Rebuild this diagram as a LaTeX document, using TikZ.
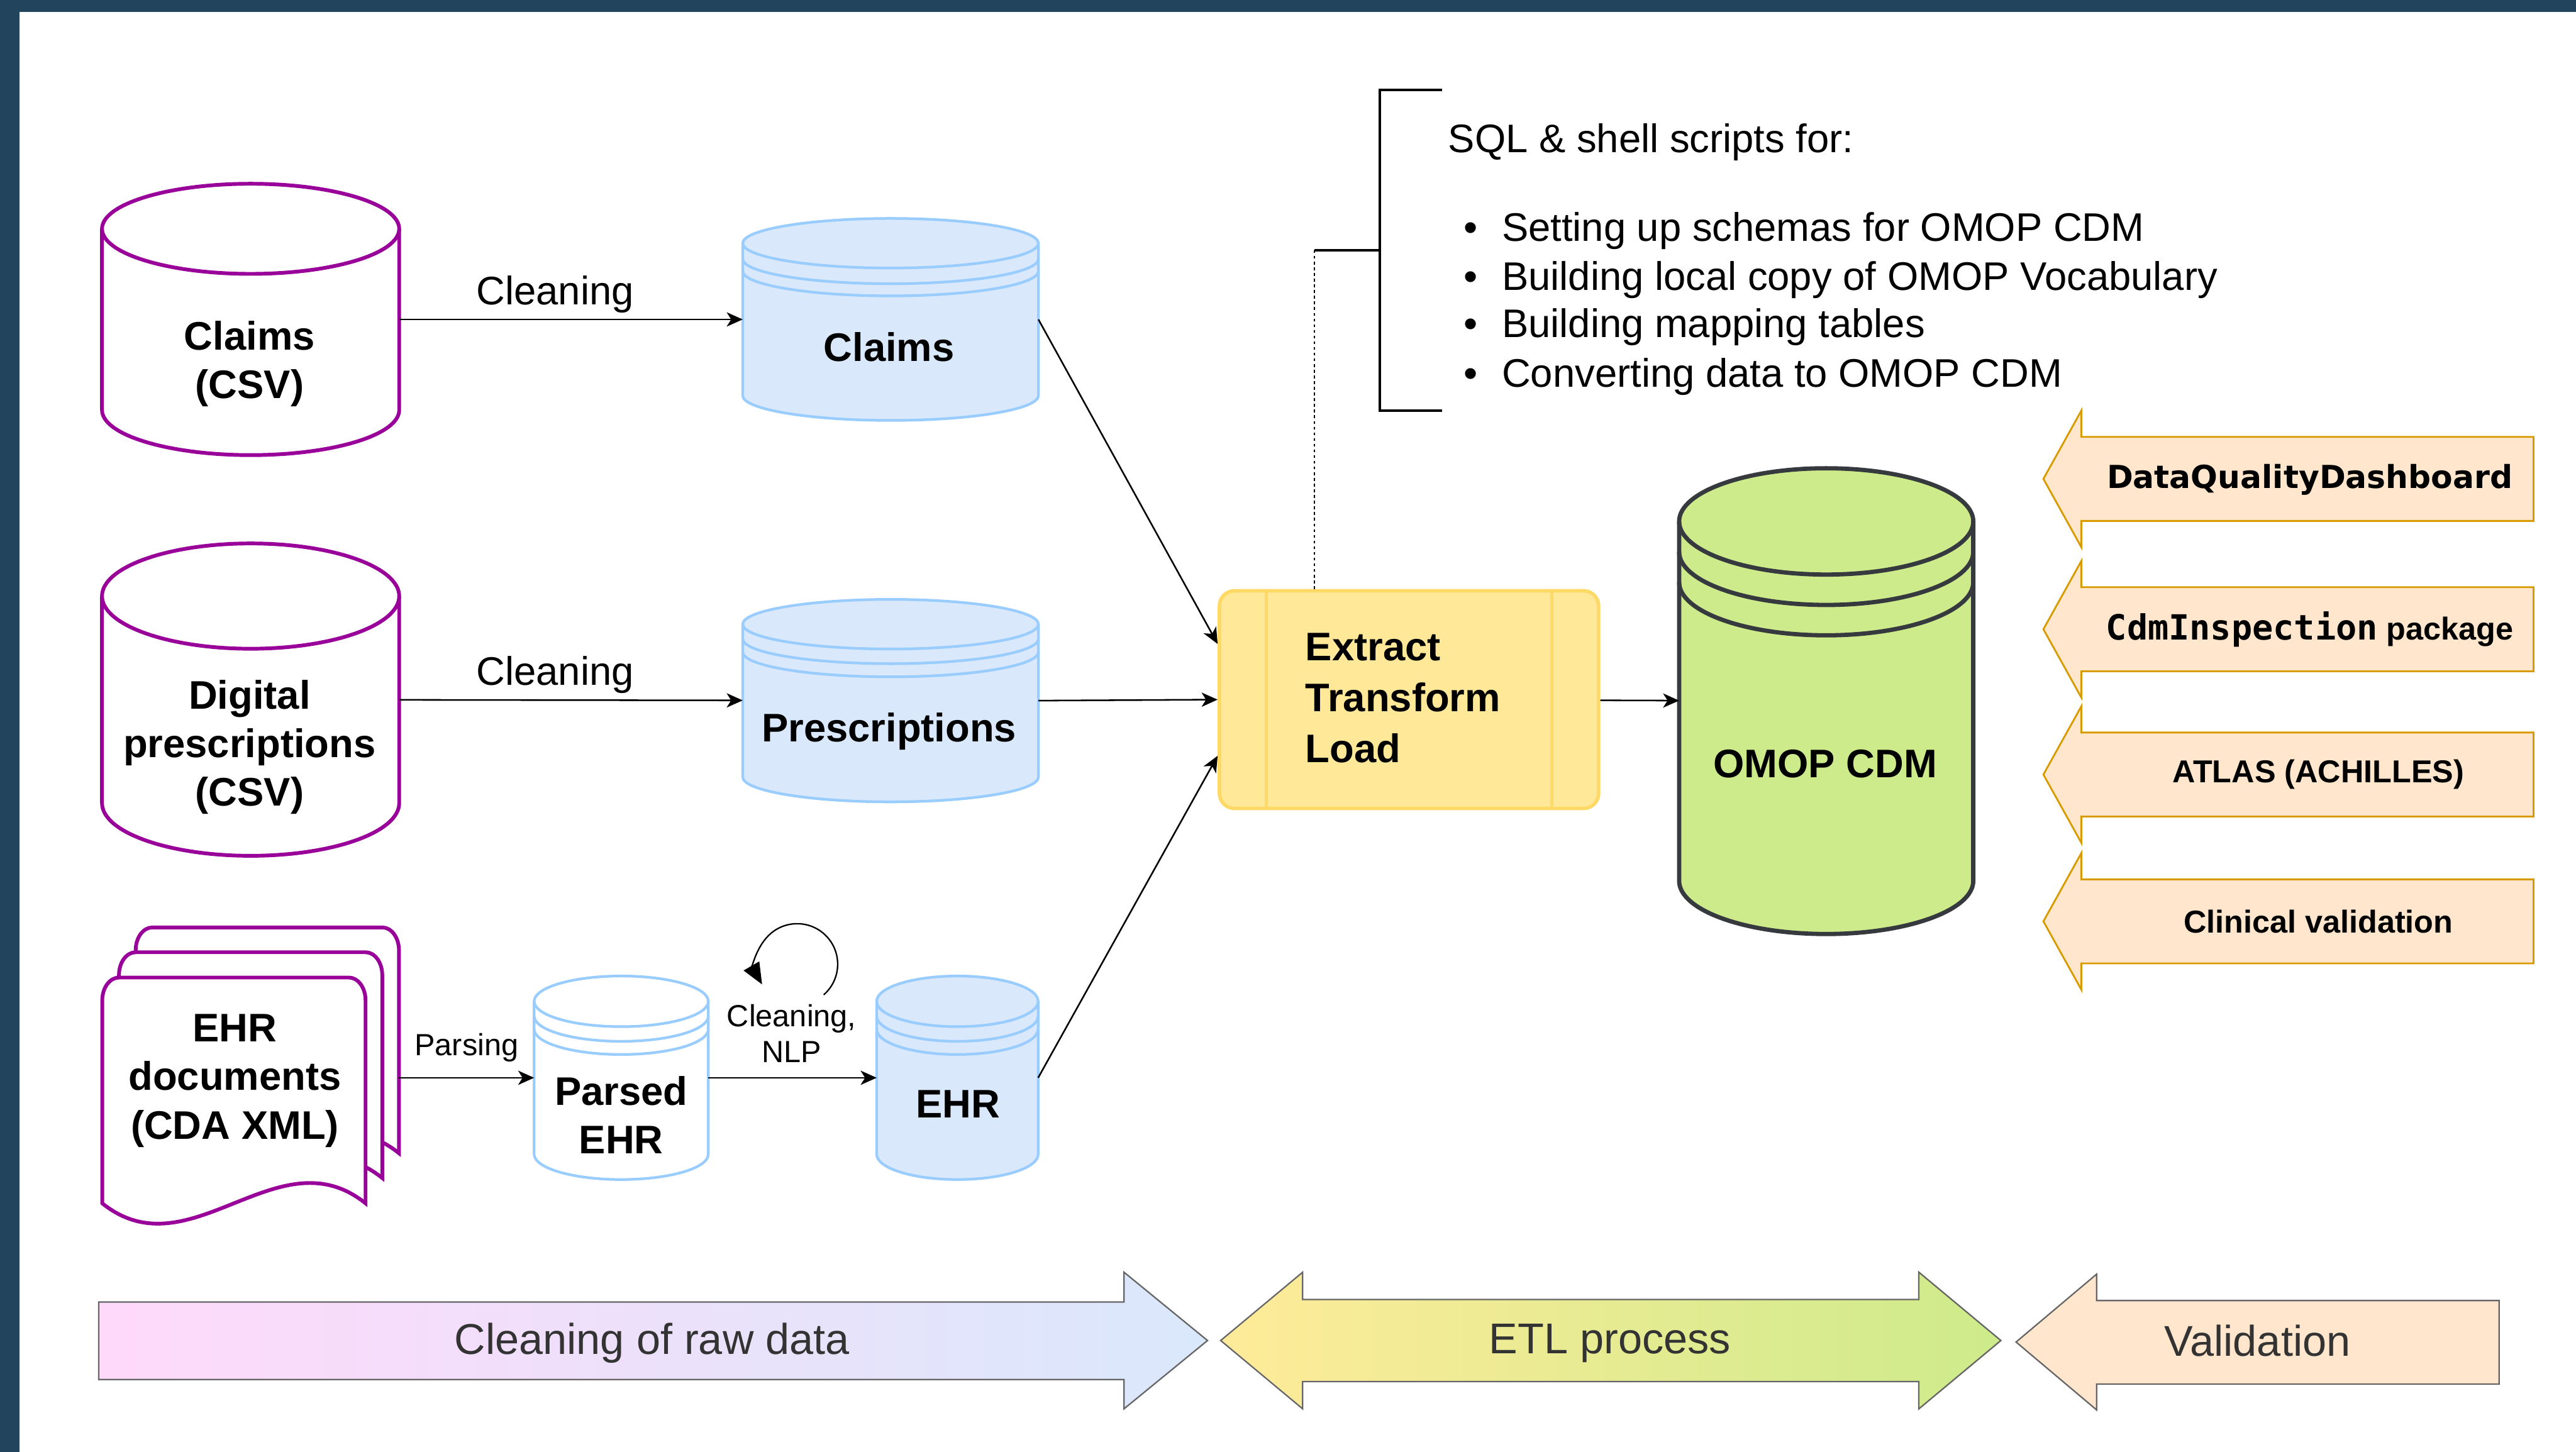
\documentclass[tikz,border=0pt]{standalone}
\usepackage{fontspec}
\setmainfont{Liberation Sans}
\newfontfamily\verdanafont{DejaVu Sans}
\newfontfamily\codefont{DejaVu Sans Mono}
\usepackage{tikz}
\usepackage{xcolor}
\usetikzlibrary{arrows.meta,positioning,calc}
\definecolor{framenavy}{HTML}{23445D}
\definecolor{rawpurple}{HTML}{990099}
\definecolor{stageblue}{HTML}{99CCFF}
\definecolor{stagefill}{HTML}{DAE8FC}
\definecolor{etlfill}{HTML}{FFE999}
\definecolor{etledge}{HTML}{FFD966}
\definecolor{cdmgreen}{HTML}{CDEB8B}
\definecolor{cdmedge}{HTML}{36393D}
\definecolor{valfill}{HTML}{FFE6CC}
\definecolor{valedge}{HTML}{D79B00}
\definecolor{phasepink}{HTML}{FFD9FA}
\definecolor{phaseyellow}{HTML}{FFEB99}
\definecolor{phasegray}{HTML}{666666}
\definecolor{phasetext}{HTML}{333333}

% cylinder drawn over an empty node: style, node, y radius, ring offsets
\newcommand{\dbcyl}[4]{%
  \draw[#1] let \p1=(#2.north west), \p2=(#2.south east), \n1={(\x2-\x1)/2} in
    (\x1,{\y1-#3}) -- (\x1,{\y2+#3})
    arc[start angle=180, end angle=360, x radius=\n1, y radius=#3]
    -- (\x2,{\y1-#3})
    arc[start angle=0, end angle=180, x radius=\n1, y radius=#3] -- cycle;
  \foreach \d in {#4}{
    \draw[#1, fill=none] let \p1=(#2.north west), \p2=(#2.south east), \n1={(\x2-\x1)/2} in
      (\x1,{\y1-#3-\d}) arc[start angle=180, end angle=360, x radius=\n1, y radius=#3];
  }%
}

\begin{document}
\begin{tikzpicture}[
    arrow/.style={->, >={Stealth[length=9pt,width=8pt,inset=2.5pt]}, line width=0.9pt},
    looparrow/.style={-{Triangle[length=12pt,width=10pt]}, line width=0.8pt},
    dotline/.style={line width=0.9pt, dash pattern=on 1.6pt off 1.6pt},
    bracketline/.style={line width=1.4pt},
    dbnode/.style={rectangle, inner sep=0pt, outer sep=0pt},
    rawcyl/.style={draw=rawpurple, line width=2.1pt, fill=white},
    stagecyl/.style={draw=stageblue, line width=1.5pt, fill=stagefill},
    parsedcyl/.style={draw=stageblue, line width=1.5pt, fill=white},
    cdmcyl/.style={draw=cdmedge, line width=2.4pt, fill=cdmgreen},
    docpage/.style={draw=rawpurple, line width=2.1pt, fill=white},
    lbl/.style={font=\fontsize{22.4}{27.3}\selectfont\bfseries, align=center},
    edgelbl/.style={font=\fontsize{22.4}{27.3}\selectfont},
    smalllbl/.style={font=\fontsize{17.2}{20}\selectfont, align=center},
    etlbox/.style={rectangle, draw=etledge, fill=etlfill, line width=2pt, rounded corners=0.3cm, minimum width=7.49cm, minimum height=4.30cm},
    scripttxt/.style={font=\fontsize{22.4}{27.3}\selectfont, inner sep=0pt},
    valarrow/.style={draw=valedge, fill=valfill, line width=1pt},
    valtxt/.style={font=\fontsize{17.8}{21}\selectfont\bfseries},
    phasearrow/.style={draw=phasegray, line width=0.8pt},
    phasetxt/.style={font=\fontsize{24.2}{29}\selectfont, text=phasetext}
]
\useasboundingbox (0,0) rectangle (50.88,28.68);
\fill[white] (0,0) rectangle (50.88,28.68);

% Frame
\fill[framenavy] (0,28.44) rectangle (50.88,28.68);
\fill[framenavy] (0,0) rectangle (0.39,28.68);

% Raw sources
\node[dbnode, minimum width=5.87cm, minimum height=5.36cm] (rawclaims) at (4.95,22.37) {};
\dbcyl{rawcyl}{rawclaims}{0.89cm}{0cm}
\node[lbl] (rawclaims-lbl) at (4.93,21.49) {Claims\\(CSV)};

\node[dbnode, minimum width=5.87cm, minimum height=6.17cm] (rawpresc) at (4.95,14.86) {};
\dbcyl{rawcyl}{rawpresc}{1.04cm}{0cm}
\node[lbl] (rawpresc-lbl) at (4.93,13.92) {Digital\\prescriptions\\(CSV)};

\foreach \dx/\dy in {0.66/0.99, 0.33/0.5, 0/0}
  \draw[docpage, shift={(\dx,\dy)}] (2.02,4.91) -- (2.02,8.92)
    arc[start angle=180, end angle=90, x radius=0.33, y radius=0.45] -- (6.89,9.37)
    arc[start angle=90, end angle=0, x radius=0.33, y radius=0.45] -- (7.22,4.91)
    .. controls (5.49,6.30) and (3.75,3.52) .. (2.02,4.91) -- cycle;
\node[dbnode, minimum width=5.86cm, minimum height=5.84cm] (docs) at (4.95,7.39) {};
\node[lbl] (docs-lbl) at (4.64,7.33) {EHR\\documents\\(CDA XML)};

% Cleaned data
\node[dbnode, minimum width=5.84cm, minimum height=3.99cm] (claims) at (17.59,22.37) {};
\dbcyl{stagecyl}{claims}{0.49cm}{0cm,0.31cm,0.55cm}
\node[lbl] (claims-lbl) at (17.56,21.83) {Claims};

\node[dbnode, minimum width=5.84cm, minimum height=4.00cm] (presc) at (17.59,14.84) {};
\dbcyl{stagecyl}{presc}{0.49cm}{0cm,0.29cm,0.55cm}
\node[lbl] (presc-lbl) at (17.56,14.23) {Prescriptions};

\node[dbnode, minimum width=3.44cm, minimum height=4.02cm] (parsed) at (12.27,7.39) {};
\dbcyl{parsedcyl}{parsed}{0.50cm}{0cm,0.29cm,0.55cm}
\node[lbl] (parsed-lbl) at (12.27,6.66) {Parsed\\EHR};

\node[dbnode, minimum width=3.19cm, minimum height=4.02cm] (ehr) at (18.91,7.39) {};
\dbcyl{stagecyl}{ehr}{0.50cm}{0cm,0.29cm,0.55cm}
\node[lbl] (ehr-lbl) at (18.92,6.87) {EHR};

% ETL and CDM
\node[etlbox] (etl) at (27.83,14.86) {};
\draw[etledge, line width=2pt] ([xshift=0.96cm]etl.north west) -- ([xshift=0.96cm]etl.south west);
\draw[etledge, line width=2pt] ([xshift=-0.96cm]etl.north east) -- ([xshift=-0.96cm]etl.south east);
\node[lbl, font=\fontsize{22.4}{28.6}\selectfont\bfseries, align=left, anchor=west, inner sep=0pt] (etl-lbl) at (25.78,14.89) {Extract\\Transform\\Load};

\node[dbnode, minimum width=5.81cm, minimum height=9.20cm] (omop) at (36.07,14.83) {};
\dbcyl{cdmcyl}{omop}{1.05cm}{0cm,0.60cm,1.20cm}
\node[lbl] (omop-lbl) at (36.05,13.59) {OMOP CDM};

% Arrows
\draw[arrow] (rawclaims) -- node[edgelbl, above, pos=0.454] {Cleaning} (claims);
\draw[arrow] (rawpresc) -- node[edgelbl, above, pos=0.454] {Cleaning} (presc);
\draw[arrow] (docs.east |- parsed) -- node[smalllbl, above, pos=0.5, yshift=5pt] {Parsing} (parsed);
\draw[arrow] (parsed) -- node[smalllbl, above, pos=0.495, yshift=5pt] {Cleaning,\\NLP} (ehr);
\coordinate (loopstart) at (16.27,9.03);
\draw[looparrow] (loopstart) arc[start angle=-49, end angle=210, radius=0.8];
\draw[arrow] (claims.east) -- ([yshift=1.10cm]etl.west);
\draw[arrow] (presc.east) -- (etl.west);
\draw[arrow] (ehr.east) -- ([yshift=-1.11cm]etl.west);
\draw[arrow] (etl) -- (omop);

% Scripts note
\coordinate (stem) at (25.96,23.73);
\draw[dotline] (etl.north -| stem) -- (stem);
\draw[bracketline] (stem) -- (27.25,23.73);
\draw[bracketline] (28.48,26.90) -- (27.25,26.90) -- (27.25,20.57) -- (28.48,20.57);
\node[scripttxt, anchor=base west] (scripts) at (28.60,25.67) {SQL \& shell scripts for:};
\foreach \task/\yy [count=\i] in {Setting up schemas for OMOP CDM/23.92, Building local copy of OMOP Vocabulary/22.95, Building mapping tables/22.01, Converting data to OMOP CDM/21.03}
  \node[scripttxt, anchor=base west] (task\i) at (28.91,\yy) {\textbullet\hspace{0.6em}\task};

% Validation tools
\foreach \yc in {19.22,16.25,13.38,10.48}
  \draw[valarrow] (40.36,\yc) -- (41.11,{\yc+1.35}) -- (41.11,{\yc+0.83}) -- (50.04,{\yc+0.83})
    -- (50.04,{\yc-0.83}) -- (41.11,{\yc-0.83}) -- (41.11,{\yc-1.35}) -- cycle;
\node[valtxt] (dqd) at (45.62,19.20) {\verdanafont\bfseries DataQualityDashboard};
\node[valtxt] (cdmi) at (45.62,16.25) {{\codefont\bfseries\fontsize{19.5}{21}\selectfont CdmInspection} package};
\node[valtxt] (atlas) at (45.79,13.38) {ATLAS (ACHILLES)};
\node[valtxt] (clinval) at (45.79,10.48) {Clinical validation};

% Phases
\draw[phasearrow, left color=phasepink, right color=stagefill] (1.95,2.96) -- (22.20,2.96) -- (22.20,3.55)
  -- (23.85,2.20) -- (22.20,0.85) -- (22.20,1.43) -- (1.95,1.43) -- cycle;
\node[phasetxt] (cleanphase) at (12.88,2.15) {Cleaning of raw data};
\draw[phasearrow, left color=phaseyellow, right color=cdmgreen] (24.11,2.20) -- (25.73,3.55) -- (25.73,3.01)
  -- (37.90,3.01) -- (37.90,3.55) -- (39.52,2.20) -- (37.90,0.85) -- (37.90,1.39) -- (25.73,1.39) -- (25.73,0.85) -- cycle;
\node[phasetxt] (etlphase) at (31.80,2.15) {ETL process};
\draw[phasearrow, fill=valfill] (39.82,2.17) -- (41.41,3.51) -- (41.41,2.99) -- (49.36,2.99)
  -- (49.36,1.34) -- (41.41,1.34) -- (41.41,0.83) -- cycle;
\node[phasetxt] (valphase) at (44.59,2.20) {Validation};

\end{tikzpicture}
\end{document}
